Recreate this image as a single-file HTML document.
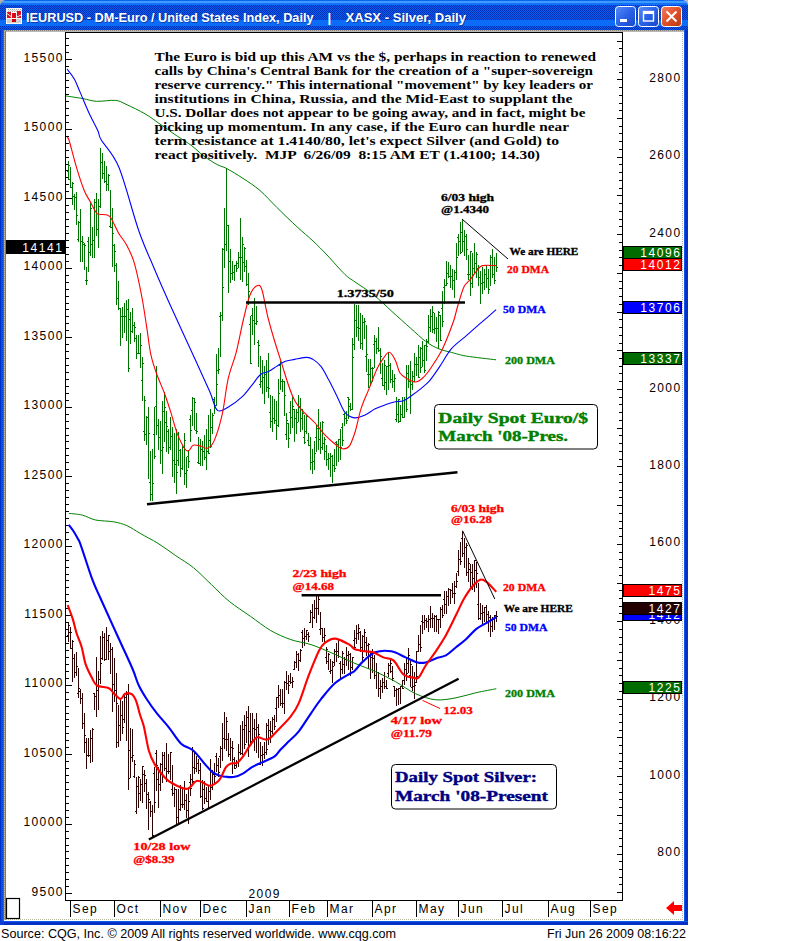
<!DOCTYPE html>
<html><head><meta charset="utf-8"><title>CQG Chart</title>
<style>html,body{margin:0;padding:0;background:#fff;width:808px;height:941px;overflow:hidden}svg{display:block}</style>
</head><body>
<svg width="808" height="941" viewBox="0 0 808 941">
<defs><linearGradient id="tb" x1="0" y1="0" x2="0" y2="1"><stop offset="0" stop-color="#0a5cf0"/><stop offset="0.04" stop-color="#3c98ff"/><stop offset="0.12" stop-color="#1a6cf8"/><stop offset="0.2" stop-color="#0a55e6"/><stop offset="0.6" stop-color="#0850e2"/><stop offset="0.72" stop-color="#0e64f2"/><stop offset="0.85" stop-color="#0a58ea"/><stop offset="1" stop-color="#0446d6"/></linearGradient><linearGradient id="btn" x1="0" y1="0" x2="1" y2="1"><stop offset="0" stop-color="#5a8cf8"/><stop offset="0.5" stop-color="#2a62e8"/><stop offset="1" stop-color="#1848c8"/></linearGradient><linearGradient id="cls" x1="0" y1="0" x2="1" y2="1"><stop offset="0" stop-color="#f08060"/><stop offset="0.5" stop-color="#e05028"/><stop offset="1" stop-color="#b83810"/></linearGradient></defs>
<path d="M0,6 Q0,0 6,0 L682,0 Q688,0 688,6 L688,925 L0,925 Z" fill="#0a3ed4"/>
<pattern id="dith" x="0" y="0" width="2" height="2" patternUnits="userSpaceOnUse"><rect width="2" height="2" fill="#0a5cf0"/><rect width="1" height="1" fill="#0030b4"/><rect x="1" y="1" width="1" height="1" fill="#0030b4"/></pattern>
<clipPath id="tclip"><path d="M0,6 Q0,0 6,0 L682,0 Q688,0 688,6 L688,30 L0,30 Z"/></clipPath>
<g clip-path="url(#tclip)" shape-rendering="crispEdges">
<rect x="0" y="0" width="688" height="1" fill="#0a64ee"/>
<rect x="0" y="1" width="688" height="2" fill="#3c9cff"/>
<rect x="0" y="3" width="688" height="2" fill="#1470f8"/>
<rect x="0" y="5" width="688" height="15" fill="url(#dith)"/>
<rect x="0" y="20" width="688" height="6" fill="#0a6cf8"/>
<rect x="0" y="26" width="688" height="4" fill="url(#dith)"/>
</g>
<path d="M0,0 L5,0 Q1,1 0,5 Z" fill="#b8b0a0"/>
<path d="M688,0 L683,0 Q687,1 688,5 Z" fill="#a8b8d8"/>
<rect x="0" y="30" width="1" height="891" fill="#0030c8"/>
<rect x="1" y="30" width="2" height="891" fill="#0a4ee8"/>
<rect x="3" y="30" width="1" height="891" fill="#1664f8"/>
<rect x="684" y="30" width="1" height="895" fill="#0a5af0"/>
<rect x="685" y="30" width="3" height="895" fill="#0630c4"/>
<rect x="0" y="921" width="688" height="1" fill="#0a5af0"/>
<rect x="0" y="922" width="688" height="3" fill="#0630c4"/>
<rect x="0" y="921" width="4" height="4" fill="#0a3ed4"/>
<rect x="4" y="30" width="680" height="891" fill="#ffffff"/>
<path d="M4,30.5 H684" stroke="#c8c08a" stroke-width="1" shape-rendering="crispEdges"/>
<path d="M4,30.5 H684" stroke="#888070" stroke-width="1" stroke-dasharray="1 1" shape-rendering="crispEdges"/>
<path d="M5,31.5 H684" stroke="#b8b8b8" stroke-width="1" shape-rendering="crispEdges"/>
<path d="M4.5,30 V920" stroke="#c8c08a" stroke-width="1" shape-rendering="crispEdges"/>
<path d="M4.5,30 V920" stroke="#a09880" stroke-width="1" stroke-dasharray="1 1" shape-rendering="crispEdges"/>
<path d="M5.5,31 V920" stroke="#787878" stroke-width="1" shape-rendering="crispEdges"/>
<path d="M682.5,31 V920" stroke="#b0b0b0" stroke-width="1" stroke-dasharray="1 1" shape-rendering="crispEdges"/>
<path d="M6,919.5 H683" stroke="#b8b8a0" stroke-width="1" stroke-dasharray="1 1" shape-rendering="crispEdges"/>
<g shape-rendering="crispEdges">
<rect x="6" y="8" width="16" height="16" fill="#f8f4f0"/>
<rect x="7" y="19" width="14" height="4" fill="#d0d0d0"/>
<rect x="8" y="9" width="1" height="1" fill="#a8a8a8"/><rect x="8" y="11" width="1" height="1" fill="#a8a8a8"/><rect x="9" y="10" width="1" height="1" fill="#c8c8c8"/>
<rect x="10" y="9" width="1" height="1" fill="#a8a8a8"/><rect x="10" y="11" width="1" height="1" fill="#a8a8a8"/><rect x="11" y="10" width="1" height="1" fill="#c8c8c8"/>
<rect x="12" y="9" width="1" height="1" fill="#a8a8a8"/><rect x="12" y="11" width="1" height="1" fill="#a8a8a8"/><rect x="13" y="10" width="1" height="1" fill="#c8c8c8"/>
<rect x="14" y="9" width="1" height="1" fill="#a8a8a8"/><rect x="14" y="11" width="1" height="1" fill="#a8a8a8"/><rect x="15" y="10" width="1" height="1" fill="#c8c8c8"/>
<rect x="16" y="9" width="1" height="1" fill="#a8a8a8"/><rect x="16" y="11" width="1" height="1" fill="#a8a8a8"/><rect x="17" y="10" width="1" height="1" fill="#c8c8c8"/>
<rect x="18" y="9" width="1" height="1" fill="#a8a8a8"/><rect x="18" y="11" width="1" height="1" fill="#a8a8a8"/><rect x="19" y="10" width="1" height="1" fill="#c8c8c8"/>
<rect x="20" y="9" width="1" height="1" fill="#a8a8a8"/><rect x="20" y="11" width="1" height="1" fill="#a8a8a8"/><rect x="21" y="10" width="1" height="1" fill="#c8c8c8"/>
<rect x="7" y="12" width="4" height="6" fill="#e01020"/>
<rect x="12" y="13" width="4" height="5" rx="1" fill="#d80818"/>
<rect x="17" y="11" width="4" height="7" fill="#e01020"/>
<rect x="12" y="19" width="4" height="3" fill="#d00010"/>
</g>
<path d="M7,13.5 L11,16.5 M17,17 L21,15" stroke="#f0f0f0" stroke-width="1"/>
<text x="27" y="22.8" font-family="Liberation Sans" font-weight="bold" font-size="13" lengthAdjust="spacingAndGlyphs" fill="#0a1a70" opacity="0.55" textLength="287">IEURUSD - DM-Euro / United States Index, Daily</text>
<text x="26" y="21.8" font-family="Liberation Sans" font-weight="bold" font-size="13" lengthAdjust="spacingAndGlyphs" fill="#ffffff" textLength="287.6">IEURUSD - DM-Euro / United States Index, Daily</text>
<text x="327.5" y="21.8" font-family="Liberation Sans" font-weight="bold" font-size="13" lengthAdjust="spacingAndGlyphs" fill="#ffffff">|</text>
<text x="346.5" y="22.8" font-family="Liberation Sans" font-weight="bold" font-size="13" lengthAdjust="spacingAndGlyphs" fill="#0a1a70" opacity="0.55" textLength="120.5">XASX - Silver, Daily</text>
<text x="345.5" y="21.8" font-family="Liberation Sans" font-weight="bold" font-size="13" lengthAdjust="spacingAndGlyphs" fill="#ffffff" textLength="120.5">XASX - Silver, Daily</text>
<rect x="615.5" y="6.5" width="20" height="20" rx="3" fill="url(#btn)" stroke="#ffffff" stroke-width="1"/>
<rect x="638.5" y="6.5" width="20" height="20" rx="3" fill="url(#btn)" stroke="#ffffff" stroke-width="1"/>
<rect x="620" y="19" width="7" height="3" fill="#fff"/>
<rect x="643.5" y="11.5" width="10" height="9.5" fill="none" stroke="#fff" stroke-width="1.4"/><rect x="643" y="11" width="11" height="3" fill="#fff"/>
<rect x="661.5" y="6.5" width="20" height="20" rx="3" fill="url(#cls)" stroke="#ffffff" stroke-width="1"/>
<path d="M666.5,11.5 L676.5,21.5 M676.5,11.5 L666.5,21.5" stroke="#fff" stroke-width="2"/>
<g shape-rendering="crispEdges" stroke="#000" stroke-width="1" fill="none">
<path d="M65.5,32 V901 M65,32.5 H623 M622.5,32 V901 M65,900.5 H623"/>
<path d="M65,38.5 H69"/>
<path d="M65,45.5 H69"/>
<path d="M65,52.5 H69"/>
<path d="M65,59.5 H72"/>
<path d="M65,66.5 H69"/>
<path d="M65,73.5 H69"/>
<path d="M65,80.5 H69"/>
<path d="M65,87.5 H69"/>
<path d="M65,94.5 H69"/>
<path d="M65,101.5 H69"/>
<path d="M65,108.5 H69"/>
<path d="M65,115.5 H69"/>
<path d="M65,122.5 H69"/>
<path d="M65,129.5 H72"/>
<path d="M65,136.5 H69"/>
<path d="M65,143.5 H69"/>
<path d="M65,150.5 H69"/>
<path d="M65,157.5 H69"/>
<path d="M65,164.5 H69"/>
<path d="M65,170.5 H69"/>
<path d="M65,177.5 H69"/>
<path d="M65,184.5 H69"/>
<path d="M65,191.5 H69"/>
<path d="M65,198.5 H72"/>
<path d="M65,205.5 H69"/>
<path d="M65,212.5 H69"/>
<path d="M65,219.5 H69"/>
<path d="M65,226.5 H69"/>
<path d="M65,233.5 H69"/>
<path d="M65,240.5 H69"/>
<path d="M65,247.5 H69"/>
<path d="M65,254.5 H69"/>
<path d="M65,261.5 H69"/>
<path d="M65,268.5 H72"/>
<path d="M65,275.5 H69"/>
<path d="M65,282.5 H69"/>
<path d="M65,289.5 H69"/>
<path d="M65,296.5 H69"/>
<path d="M65,303.5 H69"/>
<path d="M65,309.5 H69"/>
<path d="M65,316.5 H69"/>
<path d="M65,323.5 H69"/>
<path d="M65,330.5 H69"/>
<path d="M65,337.5 H72"/>
<path d="M65,344.5 H69"/>
<path d="M65,351.5 H69"/>
<path d="M65,358.5 H69"/>
<path d="M65,365.5 H69"/>
<path d="M65,372.5 H69"/>
<path d="M65,379.5 H69"/>
<path d="M65,386.5 H69"/>
<path d="M65,393.5 H69"/>
<path d="M65,400.5 H69"/>
<path d="M65,407.5 H72"/>
<path d="M65,414.5 H69"/>
<path d="M65,421.5 H69"/>
<path d="M65,428.5 H69"/>
<path d="M65,435.5 H69"/>
<path d="M65,441.5 H69"/>
<path d="M65,448.5 H69"/>
<path d="M65,455.5 H69"/>
<path d="M65,462.5 H69"/>
<path d="M65,469.5 H69"/>
<path d="M65,476.5 H72"/>
<path d="M65,483.5 H69"/>
<path d="M65,490.5 H69"/>
<path d="M65,497.5 H69"/>
<path d="M65,504.5 H69"/>
<path d="M65,511.5 H69"/>
<path d="M65,518.5 H69"/>
<path d="M65,525.5 H69"/>
<path d="M65,532.5 H69"/>
<path d="M65,539.5 H69"/>
<path d="M65,546.5 H72"/>
<path d="M65,553.5 H69"/>
<path d="M65,560.5 H69"/>
<path d="M65,567.5 H69"/>
<path d="M65,574.5 H69"/>
<path d="M65,580.5 H69"/>
<path d="M65,587.5 H69"/>
<path d="M65,594.5 H69"/>
<path d="M65,601.5 H69"/>
<path d="M65,608.5 H69"/>
<path d="M65,615.5 H72"/>
<path d="M65,622.5 H69"/>
<path d="M65,629.5 H69"/>
<path d="M65,636.5 H69"/>
<path d="M65,643.5 H69"/>
<path d="M65,650.5 H69"/>
<path d="M65,657.5 H69"/>
<path d="M65,664.5 H69"/>
<path d="M65,671.5 H69"/>
<path d="M65,678.5 H69"/>
<path d="M65,685.5 H72"/>
<path d="M65,692.5 H69"/>
<path d="M65,699.5 H69"/>
<path d="M65,706.5 H69"/>
<path d="M65,713.5 H69"/>
<path d="M65,719.5 H69"/>
<path d="M65,726.5 H69"/>
<path d="M65,733.5 H69"/>
<path d="M65,740.5 H69"/>
<path d="M65,747.5 H69"/>
<path d="M65,754.5 H72"/>
<path d="M65,761.5 H69"/>
<path d="M65,768.5 H69"/>
<path d="M65,775.5 H69"/>
<path d="M65,782.5 H69"/>
<path d="M65,789.5 H69"/>
<path d="M65,796.5 H69"/>
<path d="M65,803.5 H69"/>
<path d="M65,810.5 H69"/>
<path d="M65,817.5 H69"/>
<path d="M65,824.5 H72"/>
<path d="M65,831.5 H69"/>
<path d="M65,838.5 H69"/>
<path d="M65,845.5 H69"/>
<path d="M65,851.5 H69"/>
<path d="M65,858.5 H69"/>
<path d="M65,865.5 H69"/>
<path d="M65,872.5 H69"/>
<path d="M65,879.5 H69"/>
<path d="M65,886.5 H69"/>
<path d="M65,893.5 H72"/>
<path d="M617,41.5 H623"/>
<path d="M619,48.5 H623"/>
<path d="M619,56.5 H623"/>
<path d="M619,64.5 H623"/>
<path d="M619,72.5 H623"/>
<path d="M617,79.5 H623"/>
<path d="M619,87.5 H623"/>
<path d="M619,95.5 H623"/>
<path d="M619,103.5 H623"/>
<path d="M619,110.5 H623"/>
<path d="M617,118.5 H623"/>
<path d="M619,126.5 H623"/>
<path d="M619,133.5 H623"/>
<path d="M619,141.5 H623"/>
<path d="M619,149.5 H623"/>
<path d="M617,157.5 H623"/>
<path d="M619,164.5 H623"/>
<path d="M619,172.5 H623"/>
<path d="M619,180.5 H623"/>
<path d="M619,188.5 H623"/>
<path d="M617,195.5 H623"/>
<path d="M619,203.5 H623"/>
<path d="M619,211.5 H623"/>
<path d="M619,219.5 H623"/>
<path d="M619,226.5 H623"/>
<path d="M617,234.5 H623"/>
<path d="M619,242.5 H623"/>
<path d="M619,250.5 H623"/>
<path d="M619,257.5 H623"/>
<path d="M619,265.5 H623"/>
<path d="M617,273.5 H623"/>
<path d="M619,281.5 H623"/>
<path d="M619,288.5 H623"/>
<path d="M619,296.5 H623"/>
<path d="M619,304.5 H623"/>
<path d="M617,312.5 H623"/>
<path d="M619,319.5 H623"/>
<path d="M619,327.5 H623"/>
<path d="M619,335.5 H623"/>
<path d="M619,343.5 H623"/>
<path d="M617,350.5 H623"/>
<path d="M619,358.5 H623"/>
<path d="M619,366.5 H623"/>
<path d="M619,373.5 H623"/>
<path d="M619,381.5 H623"/>
<path d="M617,389.5 H623"/>
<path d="M619,397.5 H623"/>
<path d="M619,404.5 H623"/>
<path d="M619,412.5 H623"/>
<path d="M619,420.5 H623"/>
<path d="M617,428.5 H623"/>
<path d="M619,435.5 H623"/>
<path d="M619,443.5 H623"/>
<path d="M619,451.5 H623"/>
<path d="M619,459.5 H623"/>
<path d="M617,466.5 H623"/>
<path d="M619,474.5 H623"/>
<path d="M619,482.5 H623"/>
<path d="M619,490.5 H623"/>
<path d="M619,497.5 H623"/>
<path d="M617,505.5 H623"/>
<path d="M619,513.5 H623"/>
<path d="M619,521.5 H623"/>
<path d="M619,528.5 H623"/>
<path d="M619,536.5 H623"/>
<path d="M617,544.5 H623"/>
<path d="M619,552.5 H623"/>
<path d="M619,559.5 H623"/>
<path d="M619,567.5 H623"/>
<path d="M619,575.5 H623"/>
<path d="M617,583.5 H623"/>
<path d="M619,590.5 H623"/>
<path d="M619,598.5 H623"/>
<path d="M619,606.5 H623"/>
<path d="M619,613.5 H623"/>
<path d="M617,621.5 H623"/>
<path d="M619,629.5 H623"/>
<path d="M619,637.5 H623"/>
<path d="M619,644.5 H623"/>
<path d="M619,652.5 H623"/>
<path d="M617,660.5 H623"/>
<path d="M619,668.5 H623"/>
<path d="M619,675.5 H623"/>
<path d="M619,683.5 H623"/>
<path d="M619,691.5 H623"/>
<path d="M617,699.5 H623"/>
<path d="M619,706.5 H623"/>
<path d="M619,714.5 H623"/>
<path d="M619,722.5 H623"/>
<path d="M619,730.5 H623"/>
<path d="M617,737.5 H623"/>
<path d="M619,745.5 H623"/>
<path d="M619,753.5 H623"/>
<path d="M619,761.5 H623"/>
<path d="M619,768.5 H623"/>
<path d="M617,776.5 H623"/>
<path d="M619,784.5 H623"/>
<path d="M619,792.5 H623"/>
<path d="M619,799.5 H623"/>
<path d="M619,807.5 H623"/>
<path d="M617,815.5 H623"/>
<path d="M619,823.5 H623"/>
<path d="M619,830.5 H623"/>
<path d="M619,838.5 H623"/>
<path d="M619,846.5 H623"/>
<path d="M617,854.5 H623"/>
<path d="M619,861.5 H623"/>
<path d="M619,869.5 H623"/>
<path d="M619,877.5 H623"/>
<path d="M619,884.5 H623"/>
<path d="M617,892.5 H623"/>
<path d="M70.5,901 V917"/>
<path d="M114.5,901 V917"/>
<path d="M160.5,901 V917"/>
<path d="M200.5,901 V917"/>
<path d="M246.5,901 V917"/>
<path d="M289.5,901 V917"/>
<path d="M327.5,901 V917"/>
<path d="M372.5,901 V917"/>
<path d="M416.5,901 V917"/>
<path d="M458.5,901 V917"/>
<path d="M502.5,901 V917"/>
<path d="M548.5,901 V917"/>
<path d="M590.5,901 V917"/>
</g>
<rect x="6.5" y="898.5" width="13" height="20" fill="none" stroke="#000" stroke-width="1.2"/>
<g font-family="Liberation Sans" font-size="12" fill="#000" letter-spacing="1.4">
<text x="63.8" y="61.9" text-anchor="end">15500</text>
<text x="63.8" y="131.4" text-anchor="end">15000</text>
<text x="63.8" y="200.9" text-anchor="end">14500</text>
<text x="63.8" y="270.4" text-anchor="end">14000</text>
<text x="63.8" y="339.9" text-anchor="end">13500</text>
<text x="63.8" y="409.4" text-anchor="end">13000</text>
<text x="63.8" y="478.8" text-anchor="end">12500</text>
<text x="63.8" y="548.3" text-anchor="end">12000</text>
<text x="63.8" y="617.8" text-anchor="end">11500</text>
<text x="63.8" y="687.3" text-anchor="end">11000</text>
<text x="63.8" y="756.8" text-anchor="end">10500</text>
<text x="63.8" y="826.3" text-anchor="end">10000</text>
<text x="63.8" y="895.8" text-anchor="end">9500</text>
<text x="681.5" y="81.9" text-anchor="end">2800</text>
<text x="681.5" y="159.3" text-anchor="end">2600</text>
<text x="681.5" y="236.7" text-anchor="end">2400</text>
<text x="681.5" y="314.2" text-anchor="end">2200</text>
<text x="681.5" y="391.6" text-anchor="end">2000</text>
<text x="681.5" y="469.0" text-anchor="end">1800</text>
<text x="681.5" y="546.4" text-anchor="end">1600</text>
<text x="681.5" y="623.8" text-anchor="end">1400</text>
<text x="681.5" y="701.3" text-anchor="end">1200</text>
<text x="681.5" y="778.7" text-anchor="end">1000</text>
<text x="681.5" y="856.1" text-anchor="end">800</text>
<text x="72.5" y="913">Sep</text>
<text x="116.5" y="913">Oct</text>
<text x="162.5" y="913">Nov</text>
<text x="202.5" y="913">Dec</text>
<text x="248.5" y="913">Jan</text>
<text x="291.5" y="913">Feb</text>
<text x="329.5" y="913">Mar</text>
<text x="374.5" y="913">Apr</text>
<text x="418.5" y="913">May</text>
<text x="460.5" y="913">Jun</text>
<text x="504.5" y="913">Jul</text>
<text x="550.5" y="913">Aug</text>
<text x="592.5" y="913">Sep</text>
<text x="248.5" y="897.5">2009</text>
</g>
<path shape-rendering="crispEdges" stroke="#007400" stroke-width="1" fill="none" d="M68.5,161V180M67,171.5H68M69,165.5H70M70.5,167V188M69,179.5H70M71,187.5H72M72.5,182V205M71,187.5H72M73,183.5H74M74.5,194V210M73,196.5H74M75,197.5H76M76.5,192V225M75,197.5H76M77,215.5H78M78.5,221V242M77,239.5H78M79,222.5H80M80.5,209V262M79,222.5H80M81,241.5H82M82.5,236V262M81,241.5H82M83,242.5H84M84.5,243V270M83,244.5H84M85,245.5H86M86.5,267V285M85,280.5H86M87,280.5H88M88.5,237V272M87,241.5H88M89,252.5H90M90.5,203V256M89,252.5H90M91,208.5H92M92.5,227V258M91,244.5H92M93,240.5H94M94.5,199V258M93,240.5H94M95,202.5H96M96.5,193V236M95,202.5H96M97,229.5H98M98.5,199V248M97,229.5H98M99,206.5H100M100.5,148V208M99,206.5H100M101,162.5H102M102.5,153V179M101,162.5H102M103,173.5H104M104.5,161V183M103,173.5H104M105,181.5H106M106.5,166V191M105,181.5H106M107,184.5H108M108.5,174V191M107,184.5H108M109,175.5H110M110.5,190V228M109,226.5H110M111,227.5H112M112.5,208V267M111,227.5H112M113,233.5H114M114.5,244V272M113,245.5H114M115,251.5H116M116.5,263V305M115,265.5H116M117,298.5H118M118.5,281V310M117,298.5H118M119,308.5H120M120.5,308V346M119,308.5H120M121,316.5H122M122.5,307V338M121,316.5H122M123,316.5H124M124.5,303V333M123,316.5H124M125,316.5H126M126.5,300V341M125,316.5H126M127,309.5H128M128.5,299V372M127,309.5H128M129,368.5H130M130.5,312V344M129,319.5H130M131,331.5H132M132.5,308V333M131,331.5H132M133,325.5H134M134.5,322V342M133,325.5H134M135,327.5H136M136.5,335V359M135,338.5H136M137,353.5H138M138.5,335V354M137,353.5H138M139,353.5H140M140.5,333V368M139,353.5H140M141,345.5H142M142.5,357V401M141,380.5H142M143,363.5H144M144.5,396V441M143,431.5H144M145,400.5H146M146.5,416V445M145,434.5H146M147,417.5H148M148.5,407V479M147,417.5H148M149,433.5H150M150.5,451V501M149,482.5H150M151,494.5H152M152.5,449V501M151,494.5H152M153,483.5H154M154.5,407V459M153,434.5H154M155,456.5H156M156.5,366V435M155,406.5H156M157,425.5H158M158.5,419V450M157,425.5H158M159,437.5H160M160.5,421V464M159,437.5H160M161,450.5H162M162.5,401V474M161,450.5H162M163,447.5H164M164.5,392V442M163,411.5H164M165,407.5H166M166.5,411V452M165,422.5H166M167,426.5H168M168.5,429V454M167,431.5H168M169,447.5H170M170.5,417V450M169,447.5H170M171,436.5H172M172.5,427V477M171,436.5H172M173,460.5H174M174.5,433V483M173,460.5H174M175,464.5H176M176.5,429V494M175,464.5H176M177,472.5H178M178.5,432V466M177,460.5H178M179,450.5H180M180.5,449V477M179,450.5H180M181,468.5H182M182.5,445V470M181,468.5H182M183,447.5H184M184.5,433V485M183,447.5H184M185,440.5H186M186.5,457V488M185,473.5H186M187,470.5H188M188.5,451V468M187,456.5H188M189,461.5H190M190.5,415V442M189,419.5H190M191,430.5H192M192.5,397V426M191,410.5H192M193,398.5H194M194.5,398V430M193,398.5H194M195,402.5H196M196.5,413V434M195,430.5H196M197,431.5H198M198.5,437V464M197,462.5H198M199,463.5H200M200.5,439V466M199,463.5H200M201,449.5H202M202.5,441V466M201,449.5H202M203,451.5H204M204.5,435V460M203,451.5H204M205,457.5H206M206.5,429V470M205,457.5H206M207,451.5H208M208.5,415V454M207,451.5H208M209,453.5H210M210.5,409V448M209,440.5H210M211,446.5H212M212.5,413V434M211,427.5H212M213,415.5H214M214.5,397V414M213,399.5H214M215,405.5H216M216.5,354V406M215,405.5H216M217,384.5H218M218.5,348V374M217,370.5H218M219,369.5H220M220.5,312V357M219,316.5H220M221,315.5H222M222.5,248V321M221,315.5H222M223,287.5H224M224.5,208V268M223,249.5H224M225,244.5H226M226.5,168V251M225,244.5H226M227,225.5H228M228.5,225V293M227,225.5H228M229,261.5H230M230.5,249V283M229,261.5H230M231,273.5H232M232.5,261V280M231,273.5H232M233,272.5H234M234.5,265V281M233,272.5H234M235,265.5H236M236.5,261V272M235,265.5H236M237,268.5H238M238.5,252V268M237,263.5H238M239,257.5H240M240.5,218V280M239,257.5H240M241,257.5H242M242.5,237V282M241,257.5H242M243,244.5H244M244.5,247V272M243,262.5H244M245,248.5H246M246.5,260V286M245,266.5H246M247,284.5H248M248.5,273V305M247,284.5H248M249,291.5H250M250.5,316V364M249,324.5H250M251,363.5H252M252.5,308V335M251,315.5H252M253,320.5H254M254.5,298V345M253,320.5H254M255,323.5H256M256.5,306V325M255,323.5H256M257,321.5H258M258.5,340V367M257,342.5H258M259,345.5H260M260.5,356V388M259,384.5H260M261,381.5H262M262.5,360V394M261,381.5H262M263,377.5H264M264.5,366V404M263,377.5H264M265,374.5H266M266.5,360V392M265,374.5H266M267,387.5H268M268.5,353V398M267,387.5H268M269,388.5H270M270.5,395V428M269,412.5H270M271,421.5H272M272.5,396V432M271,421.5H272M273,418.5H274M274.5,399V424M273,418.5H274M275,420.5H276M276.5,401V440M275,420.5H276M277,425.5H278M278.5,379V427M277,425.5H278M279,393.5H280M280.5,361V390M279,365.5H280M281,363.5H282M282.5,379V392M281,381.5H282M283,381.5H284M284.5,381V416M283,381.5H284M285,395.5H286M286.5,413V440M285,434.5H286M287,420.5H288M288.5,423V448M287,423.5H288M289,438.5H290M290.5,401V434M289,412.5H290M291,417.5H292M292.5,397V428M291,417.5H292M293,406.5H294M294.5,409V442M293,409.5H294M295,418.5H296M296.5,409V434M295,418.5H296M297,422.5H298M298.5,395V422M297,412.5H298M299,406.5H300M300.5,398V432M299,406.5H300M301,418.5H302M302.5,409V430M301,418.5H302M303,413.5H304M304.5,415V444M303,437.5H304M305,442.5H306M306.5,415V434M305,431.5H306M307,416.5H308M308.5,433V446M307,440.5H308M309,445.5H310M310.5,437V470M309,445.5H310M311,462.5H312M312.5,449V474M311,462.5H312M313,461.5H314M314.5,441V470M313,461.5H314M315,453.5H316M316.5,425V452M315,437.5H316M317,428.5H318M318.5,409V450M317,428.5H318M319,439.5H320M320.5,422V454M319,439.5H320M321,447.5H322M322.5,421V450M321,447.5H322M323,422.5H324M324.5,437V460M323,443.5H324M325,439.5H326M326.5,445V466M325,451.5H326M327,459.5H328M328.5,453V470M327,459.5H328M329,458.5H330M330.5,453V477M329,458.5H330M331,456.5H332M332.5,455V483M331,456.5H332M333,465.5H334M334.5,449V472M333,465.5H334M335,468.5H336M336.5,441V466M335,442.5H336M337,444.5H338M338.5,439V462M337,444.5H338M339,439.5H340M340.5,429V460M339,439.5H340M341,447.5H342M342.5,423V446M341,427.5H342M343,440.5H344M344.5,413V426M343,414.5H344M345,418.5H346M346.5,411V424M345,418.5H346M347,420.5H348M348.5,397V419M347,397.5H348M349,399.5H350M350.5,403V411M349,406.5H350M351,409.5H352M352.5,338V410M351,409.5H352M353,357.5H354M354.5,304V350M353,344.5H354M355,320.5H356M356.5,305V337M355,320.5H356M357,327.5H358M358.5,305V341M357,327.5H358M359,328.5H360M360.5,313V349M359,328.5H360M361,343.5H362M362.5,315V350M361,343.5H362M363,322.5H364M364.5,318V339M363,322.5H364M365,321.5H366M366.5,325V372M365,356.5H366M367,354.5H368M368.5,359V388M367,374.5H368M369,374.5H370M370.5,359V386M369,374.5H370M371,368.5H372M372.5,367V382M371,368.5H372M373,368.5H374M374.5,335V368M373,344.5H374M375,341.5H376M376.5,338V354M375,341.5H376M377,348.5H378M378.5,327V352M377,348.5H378M379,350.5H380M380.5,348V374M379,350.5H380M381,356.5H382M382.5,363V386M381,378.5H382M383,385.5H384M384.5,360V390M383,385.5H384M385,365.5H386M386.5,366V395M385,382.5H386M387,366.5H388M388.5,352V390M387,366.5H388M389,365.5H390M390.5,363V383M389,365.5H390M391,379.5H392M392.5,370V388M391,379.5H392M393,381.5H394M394.5,374V392M393,381.5H394M395,378.5H396M396.5,397V422M395,419.5H396M397,414.5H398M398.5,399V423M397,414.5H398M399,399.5H400M400.5,405V422M399,421.5H400M401,414.5H402M402.5,397V418M401,414.5H402M403,417.5H404M404.5,397V418M403,417.5H404M405,399.5H406M406.5,365V412M405,399.5H406M407,409.5H408M408.5,365V388M407,373.5H408M409,381.5H410M410.5,361V414M409,381.5H410M411,384.5H412M412.5,371V390M411,384.5H412M413,376.5H414M414.5,353V382M413,376.5H414M415,364.5H416M416.5,357V376M415,364.5H416M417,364.5H418M418.5,345V378M417,364.5H418M419,377.5H420M420.5,347V373M419,357.5H420M421,367.5H422M422.5,341V367M421,348.5H422M423,360.5H424M424.5,345V373M423,360.5H424M425,370.5H426M426.5,339V361M425,345.5H426M427,346.5H428M428.5,315V343M427,341.5H428M429,327.5H430M430.5,309V332M429,327.5H430M431,316.5H432M432.5,306V333M431,316.5H432M433,312.5H434M434.5,313V334M433,329.5H434M435,328.5H436M436.5,317V342M435,328.5H436M437,328.5H438M438.5,311V349M437,328.5H438M439,312.5H440M440.5,315V341M439,315.5H440M441,340.5H442M442.5,291V327M441,308.5H442M443,321.5H444M444.5,279V304M443,287.5H444M445,285.5H446M446.5,261V286M445,285.5H446M447,283.5H448M448.5,262V278M447,273.5H448M449,276.5H450M450.5,265V288M449,276.5H450M451,276.5H452M452.5,269V290M451,276.5H452M453,280.5H454M454.5,270V298M453,280.5H454M455,272.5H456M456.5,243V280M455,272.5H456M457,257.5H458M458.5,234V256M457,237.5H458M459,241.5H460M460.5,222V254M459,241.5H460M461,252.5H462M462.5,220V252M461,232.5H462M463,241.5H464M464.5,230V256M463,241.5H464M465,236.5H466M466.5,234V260M465,236.5H466M467,249.5H468M468.5,255V280M467,274.5H468M469,274.5H470M470.5,251V296M469,274.5H470M471,251.5H472M472.5,253V288M471,283.5H472M473,275.5H474M474.5,243V274M473,268.5H474M475,263.5H476M476.5,252V278M475,263.5H476M477,254.5H478M478.5,265V286M477,268.5H478M479,277.5H480M480.5,271V304M479,277.5H480M481,283.5H482M482.5,267V294M481,283.5H482M483,282.5H484M484.5,269V290M483,282.5H484M485,274.5H486M486.5,265V288M485,274.5H486M487,278.5H488M488.5,269V294M487,278.5H488M489,289.5H490M490.5,255V286M489,265.5H490M491,257.5H492M492.5,249V278M491,257.5H492M493,274.5H494M494.5,257V284M493,274.5H494M495,280.5H496M496.5,253V272M495,265.5H496M497,267.5H498"/>
<path shape-rendering="crispEdges" stroke="#2c0404" stroke-width="1" fill="none" d="M68.5,623V642M67,635.5H68M69,625.5H70M70.5,627V649M69,632.5H70M71,632.5H72M72.5,640V682M71,648.5H72M73,641.5H74M74.5,654V678M73,658.5H74M75,672.5H76M76.5,652V676M75,672.5H76M77,666.5H78M78.5,668V698M77,693.5H78M79,688.5H80M80.5,689V704M79,691.5H80M81,698.5H82M82.5,693V729M81,698.5H82M83,723.5H84M84.5,713V753M83,723.5H84M85,735.5H86M86.5,738V769M85,742.5H86M87,755.5H88M88.5,738V757M87,755.5H88M89,755.5H90M90.5,730V763M89,755.5H90M91,738.5H92M92.5,728V762M91,738.5H92M93,729.5H94M94.5,693V710M93,693.5H94M95,696.5H96M96.5,657V717M95,696.5H96M97,690.5H98M98.5,671V710M97,690.5H98M99,679.5H100M100.5,636V684M99,679.5H100M101,663.5H102M102.5,631V660M101,658.5H102M103,637.5H104M104.5,633V661M103,637.5H104M105,659.5H106M106.5,627V660M105,659.5H106M107,640.5H108M108.5,635V660M107,640.5H108M109,635.5H110M110.5,643V674M109,651.5H110M111,649.5H112M112.5,647V712M111,649.5H112M113,684.5H114M114.5,658V702M113,684.5H114M115,690.5H116M116.5,673V748M115,690.5H116M117,703.5H118M118.5,705V747M117,742.5H118M119,725.5H120M120.5,699V741M119,725.5H120M121,715.5H122M122.5,701V734M121,715.5H122M123,727.5H124M124.5,693V723M123,719.5H124M125,697.5H126M126.5,691V741M125,697.5H126M127,694.5H128M128.5,684V790M127,694.5H128M129,778.5H130M130.5,728V778M129,750.5H130M131,757.5H132M132.5,729V762M131,757.5H132M133,755.5H134M134.5,760V778M133,776.5H134M135,764.5H136M136.5,777V814M135,811.5H136M137,786.5H138M138.5,776V808M137,786.5H138M139,777.5H140M140.5,779V801M139,793.5H140M141,784.5H142M142.5,766V803M141,784.5H142M143,766.5H144M144.5,770V792M143,774.5H144M145,775.5H146M146.5,779V809M145,783.5H146M147,794.5H148M148.5,792V830M147,794.5H148M149,799.5H150M150.5,801V817M149,802.5H150M151,811.5H152M152.5,805V838M151,811.5H152M153,835.5H154M154.5,767V813M153,773.5H154M155,802.5H156M156.5,750V791M155,753.5H156M157,765.5H158M158.5,767V808M157,779.5H158M159,784.5H160M160.5,763V791M159,784.5H160M161,764.5H162M162.5,752V783M161,764.5H162M163,776.5H164M164.5,752V771M163,755.5H164M165,768.5H166M166.5,743V782M165,768.5H166M167,771.5H168M168.5,754V774M167,771.5H168M169,771.5H170M170.5,752V780M169,771.5H170M171,752.5H172M172.5,765V796M171,789.5H172M173,793.5H174M174.5,787V807M173,793.5H174M175,789.5H176M176.5,789V824M175,789.5H176M177,817.5H178M178.5,789V824M177,817.5H178M179,809.5H180M180.5,785V811M179,809.5H180M181,804.5H182M182.5,788V808M181,804.5H182M183,804.5H184M184.5,781V810M183,804.5H184M185,800.5H186M186.5,794V818M185,800.5H186M187,810.5H188M188.5,789V824M187,810.5H188M189,801.5H190M190.5,774V796M189,782.5H190M191,788.5H192M192.5,747V786M191,779.5H192M193,781.5H194M194.5,752V774M193,767.5H194M195,768.5H196M196.5,756V772M195,768.5H196M197,763.5H198M198.5,759V774M197,763.5H198M199,770.5H200M200.5,763V798M199,770.5H200M201,796.5H202M202.5,780V810M201,796.5H202M203,808.5H204M204.5,781V804M203,789.5H204M205,798.5H206M206.5,787V802M205,798.5H206M207,801.5H208M208.5,785V808M207,801.5H208M209,791.5H210M210.5,759V800M209,791.5H210M211,787.5H212M212.5,770V790M211,787.5H212M213,774.5H214M214.5,763V785M213,774.5H214M215,776.5H216M216.5,753V772M215,756.5H216M217,765.5H218M218.5,758V777M217,765.5H218M219,772.5H220M220.5,746V768M219,756.5H220M221,748.5H222M222.5,723V761M221,748.5H222M223,738.5H224M224.5,712V749M223,738.5H224M225,739.5H226M226.5,717V751M225,739.5H226M227,721.5H228M228.5,733V757M227,739.5H228M229,754.5H230M230.5,738V761M229,754.5H230M231,747.5H232M232.5,741V774M231,747.5H232M233,748.5H234M234.5,757V769M233,759.5H234M235,768.5H236M236.5,760V768M235,765.5H236M237,762.5H238M238.5,744V767M237,762.5H238M239,752.5H240M240.5,725V755M239,752.5H240M241,753.5H242M242.5,721V755M241,753.5H242M243,729.5H244M244.5,715V749M243,729.5H244M245,744.5H246M246.5,711V743M245,725.5H246M247,717.5H248M248.5,706V757M247,717.5H248M249,731.5H250M250.5,713V744M249,731.5H250M251,741.5H252M252.5,713V743M251,741.5H252M253,728.5H254M254.5,719V751M253,728.5H254M255,729.5H256M256.5,713V753M255,729.5H256M257,727.5H258M258.5,724V758M257,727.5H258M259,734.5H260M260.5,742V765M259,764.5H260M261,755.5H262M262.5,746V766M261,755.5H262M263,762.5H264M264.5,742V759M263,754.5H264M265,752.5H266M266.5,723V755M265,752.5H266M267,749.5H268M268.5,719V745M267,725.5H268M269,730.5H270M270.5,721V743M269,730.5H270M271,731.5H272M272.5,717V734M271,731.5H272M273,719.5H274M274.5,715V730M273,719.5H274M275,726.5H276M276.5,697V722M275,708.5H276M277,697.5H278M278.5,685V708M277,697.5H278M279,695.5H280M280.5,689V706M279,695.5H280M281,703.5H282M282.5,689V708M281,703.5H282M283,703.5H284M284.5,681V714M283,703.5H284M285,682.5H286M286.5,671V690M285,682.5H286M287,683.5H288M288.5,675V694M287,683.5H288M289,685.5H290M290.5,673V684M289,681.5H290M291,682.5H292M292.5,677V688M291,682.5H292M293,681.5H294M294.5,661V670M293,669.5H294M295,662.5H296M296.5,651V668M295,662.5H296M297,654.5H298M298.5,653V671M297,654.5H298M299,660.5H300M300.5,649V662M299,660.5H300M301,650.5H302M302.5,630V648M301,632.5H302M303,638.5H304M304.5,628V646M303,638.5H304M305,636.5H306M306.5,630V640M305,636.5H306M307,630.5H308M308.5,632V642M307,634.5H308M309,636.5H310M310.5,610V623M309,622.5H310M311,612.5H312M312.5,604V628M311,612.5H312M313,617.5H314M314.5,600V619M313,617.5H314M315,608.5H316M316.5,596V623M315,608.5H316M317,608.5H318M318.5,595V615M317,608.5H318M319,599.5H320M320.5,612V635M319,629.5H320M321,628.5H322M322.5,628V642M321,628.5H322M323,637.5H324M324.5,628V642M323,637.5H324M325,635.5H326M326.5,647V664M325,657.5H326M327,649.5H328M328.5,653V670M327,661.5H328M329,654.5H330M330.5,659V674M329,671.5H330M331,670.5H332M332.5,661V683M331,670.5H332M333,666.5H334M334.5,649V666M333,662.5H334M335,651.5H336M336.5,643V662M335,651.5H336M337,651.5H338M338.5,639V658M337,651.5H338M339,639.5H340M340.5,661V680M339,663.5H340M341,669.5H342M342.5,651V674M341,669.5H342M343,653.5H344M344.5,657V674M343,664.5H344M345,659.5H346M346.5,647V666M345,659.5H346M347,655.5H348M348.5,651V670M347,655.5H348M349,654.5H350M350.5,653V676M349,654.5H350M351,667.5H352M352.5,657V670M351,667.5H352M353,657.5H354M354.5,630V650M353,640.5H354M355,647.5H356M356.5,625V644M355,638.5H356M357,633.5H358M358.5,624V640M357,633.5H358M359,628.5H360M360.5,631V652M359,632.5H360M361,647.5H362M362.5,635V662M361,647.5H362M363,657.5H364M364.5,629V652M363,636.5H364M365,632.5H366M366.5,637V656M365,642.5H366M367,645.5H368M368.5,643V669M367,645.5H368M369,644.5H370M370.5,651V679M369,656.5H370M371,657.5H372M372.5,649V673M371,657.5H372M373,658.5H374M374.5,655V679M373,658.5H374M375,675.5H376M376.5,663V689M375,675.5H376M377,672.5H378M378.5,672V697M377,672.5H378M379,688.5H380M380.5,680V699M379,688.5H380M381,686.5H382M382.5,678V693M381,686.5H382M383,682.5H384M384.5,672V689M383,682.5H384M385,686.5H386M386.5,680V689M385,686.5H386M387,688.5H388M388.5,663V677M387,673.5H388M389,665.5H390M390.5,659V673M389,665.5H390M391,663.5H392M392.5,666V681M391,671.5H392M393,678.5H394M394.5,686V697M393,686.5H394M395,690.5H396M396.5,688V706M395,690.5H396M397,689.5H398M398.5,688V705M397,689.5H398M399,688.5H400M400.5,686V704M399,688.5H400M401,686.5H402M402.5,680V689M401,686.5H402M403,688.5H404M404.5,663V685M403,680.5H404M405,669.5H406M406.5,657V681M405,669.5H406M407,673.5H408M408.5,648V673M407,663.5H408M409,655.5H410M410.5,661V687M409,675.5H410M411,664.5H412M412.5,666V691M411,687.5H412M413,686.5H414M414.5,672V699M413,686.5H414M415,685.5H416M416.5,651V683M415,682.5H416M417,676.5H418M418.5,635V652M417,651.5H418M419,644.5H420M420.5,625V652M419,644.5H420M421,647.5H422M422.5,615V634M421,621.5H422M423,622.5H424M424.5,615V630M423,622.5H424M425,620.5H426M426.5,618V628M425,620.5H426M427,621.5H428M428.5,615V632M427,621.5H428M429,619.5H430M430.5,606V628M429,619.5H430M431,618.5H432M432.5,613V628M431,618.5H432M433,618.5H434M434.5,615V632M433,618.5H434M435,616.5H436M436.5,615V632M435,616.5H436M437,619.5H438M438.5,619V634M437,619.5H438M439,619.5H440M440.5,607V628M439,619.5H440M441,609.5H442M442.5,605V618M441,609.5H442M443,615.5H444M444.5,591V614M443,599.5H444M445,604.5H446M446.5,591V614M445,604.5H446M447,596.5H448M448.5,588V606M447,596.5H448M449,589.5H450M450.5,589V604M449,589.5H450M451,590.5H452M452.5,583V598M451,590.5H452M453,593.5H454M454.5,581V604M453,593.5H454M455,593.5H456M456.5,573V588M455,586.5H456M457,581.5H458M458.5,550V576M457,571.5H458M459,559.5H460M460.5,542V565M459,559.5H460M461,561.5H462M462.5,531V557M461,538.5H462M463,553.5H464M464.5,538V568M463,553.5H464M465,547.5H466M466.5,543V576M465,547.5H466M467,545.5H468M468.5,558V582M467,572.5H468M469,563.5H470M470.5,564V588M469,569.5H470M471,572.5H472M472.5,564V590M471,572.5H472M473,578.5H474M474.5,560V592M473,578.5H474M475,560.5H476M476.5,562V588M475,570.5H476M477,573.5H478M478.5,583V620M477,604.5H478M479,618.5H480M480.5,603V620M479,618.5H480M481,613.5H482M482.5,605V624M481,613.5H482M483,612.5H484M484.5,607V622M483,612.5H484M485,607.5H486M486.5,605V624M485,607.5H486M487,614.5H488M488.5,611V632M487,614.5H488M489,617.5H490M490.5,615V637M489,617.5H490M491,626.5H492M492.5,617V632M491,626.5H492M493,619.5H494M494.5,615V630M493,619.5H494M495,615.5H496M496.5,611V622M495,615.5H496M497,616.5H498"/>
<path d="M66.0,96.0 C68.8,96.4 77.9,97.7 83.0,98.6 C88.1,99.5 91.1,101.0 96.5,101.3 C101.9,101.6 110.7,99.9 115.6,100.4 C120.5,100.9 121.1,102.1 126.0,104.3 C130.9,106.5 139.5,110.6 145.0,113.8 C150.5,117.0 153.7,119.7 158.9,123.3 C164.1,126.9 170.7,131.7 176.2,135.4 C181.7,139.2 187.2,142.3 191.8,145.8 C196.4,149.3 199.7,153.0 204.0,156.2 C208.3,159.4 214.1,162.9 217.8,164.9 C221.6,166.9 222.3,166.2 226.5,168.4 C230.7,170.7 237.4,174.7 243.0,178.4 C248.6,182.1 254.3,185.6 260.0,190.5 C265.7,195.4 270.8,201.5 277.0,207.6 C283.2,213.7 291.0,221.2 297.0,226.8 C303.0,232.4 308.0,236.3 313.0,241.0 C318.0,245.7 321.7,249.4 327.0,255.0 C332.3,260.6 340.3,270.0 345.0,274.5 C349.7,279.0 350.2,278.5 355.0,281.9 C359.8,285.3 367.4,289.9 373.6,294.9 C379.8,299.8 385.9,306.0 392.1,311.6 C398.3,317.2 405.1,323.4 410.7,328.3 C416.3,333.2 420.9,337.9 425.5,341.3 C430.1,344.7 434.2,346.9 438.5,348.7 C442.8,350.5 446.9,351.2 451.5,352.4 C456.1,353.6 459.0,354.9 466.4,356.1 C473.8,357.3 491.2,359.2 496.1,359.8" stroke="#008000" stroke-width="1.0" fill="none" stroke-linejoin="round"/>
<path d="M67.0,69.0 C68.2,70.7 72.1,75.1 74.3,79.0 C76.5,82.9 77.7,86.7 80.2,92.4 C82.7,98.1 86.1,106.8 89.1,113.2 C92.1,119.6 96.0,126.5 98.0,131.0 C100.0,135.5 97.8,133.9 101.3,140.0 C104.8,146.1 112.8,152.4 119.0,167.5 C125.2,182.6 132.9,213.8 138.7,230.5 C144.5,247.2 148.8,255.6 154.0,268.0 C159.2,280.4 164.2,291.7 170.2,305.0 C176.2,318.3 183.3,333.7 189.9,348.0 C196.5,362.3 204.9,380.6 209.5,391.0 C214.1,401.4 214.1,407.8 217.4,410.4 C220.7,413.0 225.0,408.8 229.2,406.5 C233.3,404.2 238.4,400.3 242.3,396.7 C246.2,393.1 249.4,388.3 252.4,384.6 C255.4,380.9 257.8,376.7 260.5,374.5 C263.2,372.3 265.9,372.9 268.6,371.5 C271.3,370.1 273.9,368.1 276.6,366.4 C279.3,364.7 281.7,362.6 284.7,361.4 C287.7,360.2 291.1,360.1 294.8,359.4 C298.5,358.7 303.9,357.4 306.9,357.4 C309.9,357.4 310.6,357.9 313.0,359.4 C315.4,360.9 318.3,362.9 321.0,366.4 C323.7,369.9 326.4,375.6 329.1,380.6 C331.8,385.7 334.5,391.3 337.2,396.7 C339.9,402.1 342.3,409.4 345.3,412.9 C348.3,416.4 351.7,417.6 355.0,417.9 C358.3,418.2 361.7,416.4 365.1,414.9 C368.5,413.4 371.8,410.5 375.2,408.8 C378.6,407.1 381.9,406.0 385.3,404.8 C388.7,403.6 392.4,402.5 395.4,401.8 C398.4,401.1 400.8,401.8 403.5,400.8 C406.2,399.8 408.8,397.6 411.5,395.7 C414.2,393.8 416.6,392.2 419.6,389.7 C422.6,387.2 426.3,384.5 429.7,380.6 C433.1,376.7 436.2,371.7 439.8,366.4 C443.4,361.1 447.1,353.8 451.5,348.7 C455.9,343.6 461.4,340.0 466.4,335.7 C471.3,331.4 476.2,327.0 481.2,322.7 C486.1,318.4 493.6,311.9 496.1,309.7" stroke="#0000ff" stroke-width="1.1" fill="none" stroke-linejoin="round"/>
<path d="M67.0,138.0 C67.3,138.3 67.5,135.3 69.0,140.0 C70.5,144.7 73.6,157.8 76.1,166.2 C78.6,174.6 81.8,184.6 84.2,190.5 C86.6,196.4 88.2,197.9 90.2,201.6 C92.2,205.3 94.8,210.6 96.3,212.7 C97.8,214.8 97.4,213.9 99.3,214.3 C101.2,214.7 105.4,214.4 107.4,215.1 C109.4,215.8 109.6,215.7 111.4,218.7 C113.2,221.7 116.0,228.5 118.5,232.9 C121.0,237.3 124.1,240.3 126.6,245.0 C129.1,249.7 131.7,255.1 133.7,261.1 C135.7,267.2 137.2,274.6 138.7,281.3 C140.2,288.0 141.3,293.8 142.7,301.5 C144.0,309.2 145.5,319.0 146.8,327.8 C148.2,336.6 149.1,346.5 150.8,354.3 C152.5,362.1 154.5,367.8 156.9,374.5 C159.3,381.2 162.7,388.3 165.0,394.7 C167.3,401.1 169.0,406.5 171.0,412.9 C173.0,419.3 174.8,427.1 177.1,433.1 C179.4,439.2 183.1,446.4 185.1,449.2 C187.1,452.0 187.8,450.9 189.2,450.2 C190.5,449.5 191.2,445.9 193.2,445.2 C195.2,444.5 199.0,445.7 201.3,446.2 C203.7,446.7 205.2,449.0 207.3,448.2 C209.4,447.4 211.5,446.7 214.0,441.1 C216.5,435.6 219.7,425.3 222.1,414.9 C224.5,404.5 225.8,389.0 228.2,378.6 C230.5,368.2 233.7,362.1 236.2,352.3 C238.7,342.5 241.0,329.6 243.3,320.0 C245.6,310.4 247.7,300.7 250.0,295.0 C252.3,289.3 255.0,286.6 257.0,285.8 C259.0,285.0 260.1,284.3 262.0,290.0 C263.9,295.7 265.5,308.3 268.6,320.0 C271.7,331.7 276.3,346.9 280.7,360.4 C285.1,373.9 289.1,390.4 294.8,400.8 C300.5,411.2 309.9,417.3 315.0,423.0 C320.1,428.7 321.7,431.6 325.1,435.1 C328.5,438.6 332.4,441.9 335.2,444.2 C338.0,446.5 339.8,448.5 342.2,448.8 C344.6,449.1 347.1,449.2 349.3,446.2 C351.5,443.2 353.4,437.2 355.4,431.0 C357.3,424.8 358.7,415.9 361.0,408.8 C363.3,401.7 366.4,395.3 369.1,388.6 C371.8,381.9 374.8,373.5 377.2,368.5 C379.6,363.5 381.3,361.1 383.3,358.4 C385.3,355.7 387.3,352.0 389.3,352.3 C391.3,352.6 393.6,356.9 395.4,360.4 C397.2,363.8 398.0,369.9 400.0,373.0 C402.0,376.1 404.9,377.5 407.5,379.0 C410.1,380.5 413.2,382.0 415.6,382.0 C418.0,382.0 419.6,380.6 421.6,379.0 C423.6,377.4 425.3,375.6 427.7,372.5 C430.1,369.4 433.4,364.1 435.8,360.4 C438.2,356.7 439.8,354.3 441.8,350.3 C443.8,346.3 445.9,341.2 447.9,336.2 C449.9,331.1 452.2,325.2 453.9,320.0 C455.6,314.8 456.3,310.5 458.0,305.0 C459.7,299.5 462.0,291.0 464.0,286.8 C466.0,282.6 468.1,282.2 470.1,279.7 C472.1,277.2 474.1,274.0 476.1,271.7 C478.1,269.4 478.8,266.6 482.2,265.6 C485.6,264.6 493.9,265.6 496.3,265.6" stroke="#ff0000" stroke-width="1.1" fill="none" stroke-linejoin="round"/>
<path d="M68.9,513.4 C71.1,513.7 77.8,514.0 82.3,515.1 C86.8,516.2 90.4,518.9 95.6,520.0 C100.8,521.1 108.3,520.9 113.5,521.8 C118.7,522.7 122.3,523.7 126.8,525.6 C131.2,527.5 135.0,530.4 140.2,533.4 C145.4,536.4 152.1,539.7 158.0,543.4 C163.9,547.1 169.9,551.6 175.8,555.7 C181.8,559.8 187.8,563.1 193.7,567.9 C199.6,572.7 205.6,579.1 211.5,584.7 C217.4,590.3 222.8,596.1 229.3,601.4 C235.8,606.7 243.5,611.4 250.4,616.3 C257.3,621.1 263.9,626.6 270.6,630.5 C277.3,634.4 284.1,637.2 290.8,639.6 C297.5,642.0 304.3,642.4 311.0,644.6 C317.7,646.8 323.8,649.6 331.1,652.7 C338.4,655.8 347.6,660.3 355.0,663.4 C362.4,666.5 368.5,668.5 375.2,671.5 C381.9,674.5 388.7,677.9 395.4,681.6 C402.1,685.3 408.9,690.7 415.6,693.7 C422.3,696.7 429.1,699.1 435.8,699.8 C442.5,700.5 449.3,699.0 456.0,697.8 C462.7,696.6 469.4,694.2 476.1,692.7 C482.8,691.2 492.9,689.4 496.3,688.7" stroke="#008000" stroke-width="1.0" fill="none" stroke-linejoin="round"/>
<path d="M68.7,524.8 C69.6,526.0 72.5,529.6 74.0,532.0 C75.5,534.4 76.8,536.7 78.0,539.0 C79.2,541.3 78.6,539.1 81.0,545.8 C83.4,552.5 88.9,570.3 92.2,579.2 C95.5,588.1 96.3,588.9 100.8,599.0 C105.3,609.1 114.1,628.3 119.4,640.0 C124.7,651.7 129.4,661.5 132.6,669.0 C135.8,676.5 136.3,680.2 138.7,685.2 C141.1,690.2 143.8,694.6 146.8,699.3 C149.8,704.0 153.2,708.7 156.9,713.4 C160.6,718.1 165.0,722.5 169.0,727.6 C173.0,732.7 177.1,739.9 181.1,743.7 C185.1,747.5 189.2,747.0 193.2,750.5 C197.2,754.0 202.1,761.0 205.3,764.6 C208.5,768.2 210.0,770.2 212.4,772.1 C214.8,774.0 217.5,775.0 219.8,775.8 C222.1,776.6 223.5,776.6 226.0,776.8 C228.5,777.0 231.8,777.4 234.7,776.8 C237.6,776.2 240.4,774.9 243.3,773.3 C246.2,771.7 248.9,768.9 252.0,767.1 C255.1,765.3 258.2,764.1 261.9,762.4 C265.6,760.6 271.2,758.7 274.3,756.6 C277.4,754.5 277.9,752.4 280.4,749.8 C282.9,747.2 286.0,744.2 289.1,741.1 C292.2,738.0 295.2,736.0 298.8,731.4 C302.4,726.8 307.3,718.7 311.0,713.3 C314.7,707.9 317.0,704.1 321.0,699.1 C325.0,694.1 330.1,687.4 335.2,683.0 C340.2,678.6 348.0,675.0 351.3,672.9 C354.6,670.8 353.0,672.4 355.0,670.5 C357.0,668.6 359.7,664.4 363.1,661.4 C366.5,658.4 370.5,654.0 375.2,652.3 C379.9,650.6 386.2,650.4 391.3,651.3 C396.4,652.1 401.1,655.5 405.5,657.4 C409.9,659.2 414.2,661.6 417.6,662.4 C421.0,663.2 422.7,663.1 425.7,662.4 C428.7,661.7 432.4,659.6 435.8,658.4 C439.2,657.2 442.5,657.2 445.9,655.4 C449.3,653.5 452.6,650.0 456.0,647.3 C459.4,644.6 462.6,642.2 466.0,639.2 C469.4,636.2 472.7,631.8 476.1,629.1 C479.5,626.4 482.8,625.1 486.2,623.1 C489.6,621.1 494.6,618.0 496.3,617.0" stroke="#0000ff" stroke-width="2.1" fill="none" stroke-linejoin="round"/>
<path d="M67.7,605.1 C68.5,607.4 71.3,614.4 72.8,619.1 C74.3,623.8 75.1,628.5 76.6,633.2 C78.1,637.9 80.2,642.1 81.7,647.2 C83.2,652.3 83.8,658.7 85.5,663.8 C87.2,668.9 90.0,674.2 91.9,677.8 C93.8,681.4 94.2,683.8 97.0,685.5 C99.8,687.2 105.7,686.7 108.5,688.0 C111.3,689.3 111.6,691.3 113.6,693.1 C115.6,694.9 118.7,698.8 120.6,698.9 C122.5,699.0 123.2,694.5 125.1,693.7 C127.0,693.0 130.2,693.0 132.1,694.4 C134.0,695.8 135.2,698.6 136.5,702.0 C137.8,705.4 138.8,710.8 140.0,714.8 C141.2,718.8 142.3,720.2 143.8,726.2 C145.3,732.2 147.0,744.1 148.8,750.5 C150.7,756.9 152.2,760.1 154.9,764.6 C157.6,769.1 162.0,774.5 165.0,777.7 C168.0,780.9 169.3,781.9 173.0,783.8 C176.7,785.6 183.1,789.3 187.2,788.8 C191.2,788.3 193.5,781.3 197.3,780.8 C201.1,780.3 206.4,785.7 209.9,785.7 C213.4,785.7 216.5,782.6 218.6,780.7 C220.7,778.9 221.1,776.9 222.3,774.6 C223.5,772.3 224.6,769.0 226.0,767.1 C227.4,765.2 229.1,764.1 230.9,763.4 C232.8,762.7 235.0,764.0 237.1,762.8 C239.2,761.6 241.2,758.8 243.3,756.0 C245.4,753.2 247.2,749.2 249.5,746.1 C251.8,743.0 254.4,738.5 256.9,737.4 C259.4,736.3 262.3,739.1 264.4,739.3 C266.5,739.5 267.3,740.0 269.3,738.7 C271.3,737.4 273.0,735.1 276.6,731.4 C280.2,727.7 287.1,721.0 290.8,716.3 C294.5,711.6 295.8,710.1 298.8,703.2 C301.8,696.3 305.5,683.6 308.9,674.9 C312.3,666.1 316.3,656.1 319.0,650.7 C321.7,645.3 322.4,644.6 325.1,642.6 C327.8,640.6 331.2,638.3 335.2,638.6 C339.2,638.9 346.0,642.8 349.3,644.6 C352.6,646.4 352.4,648.2 355.0,649.3 C357.6,650.4 362.1,650.8 365.1,651.3 C368.1,651.8 370.2,651.3 373.2,652.3 C376.2,653.3 379.9,656.0 383.3,657.4 C386.7,658.8 390.0,657.5 393.4,660.4 C396.8,663.2 400.1,671.6 403.5,674.5 C406.9,677.4 411.1,677.1 413.6,677.6 C416.1,678.1 416.6,679.6 418.6,677.6 C420.6,675.6 422.8,669.9 425.7,665.5 C428.6,661.1 432.4,656.3 435.8,651.3 C439.2,646.2 442.5,641.2 445.9,635.2 C449.3,629.2 453.0,621.1 456.0,615.0 C459.0,608.9 461.3,603.5 464.0,598.8 C466.7,594.1 469.4,589.9 472.1,586.7 C474.8,583.5 477.9,580.5 480.2,579.7 C482.5,578.9 483.5,579.7 486.2,581.7 C488.9,583.7 494.6,590.1 496.3,591.8" stroke="#ff0000" stroke-width="2.1" fill="none" stroke-linejoin="round"/>
<path d="M246,302.5 H465" stroke="#000" stroke-width="2.6"/>
<path d="M147,504.3 L457.5,472.2" stroke="#000" stroke-width="2.4"/>
<path d="M462,219 L508,259" stroke="#000" stroke-width="1"/>
<path d="M301.6,595.2 H441" stroke="#000" stroke-width="2.4"/>
<path d="M148.8,839.6 L458.6,678.7" stroke="#000" stroke-width="2.3"/>
<path d="M462.6,530.8 L494.8,599" stroke="#000" stroke-width="1"/>
<path d="M422.5,700.4 L440,708.5" stroke="#ff0000" stroke-width="1"/>
<text x="154.5" y="61" font-family="Liberation Serif" font-weight="bold" font-size="12.5" fill="#000" textLength="441.5" lengthAdjust="spacingAndGlyphs" xml:space="preserve">The Euro is bid up this AM vs the $, perhaps in reaction to renewed</text>
<text x="154.5" y="75" font-family="Liberation Serif" font-weight="bold" font-size="12.5" fill="#000" textLength="438.5" lengthAdjust="spacingAndGlyphs" xml:space="preserve">calls by China's Central Bank for the creation of a &quot;super-sovereign</text>
<text x="154.5" y="89" font-family="Liberation Serif" font-weight="bold" font-size="12.5" fill="#000" textLength="438.5" lengthAdjust="spacingAndGlyphs" xml:space="preserve">reserve currency.&quot; This international &quot;movement&quot; by key leaders or</text>
<text x="154.5" y="103" font-family="Liberation Serif" font-weight="bold" font-size="12.5" fill="#000" textLength="418.0" lengthAdjust="spacingAndGlyphs" xml:space="preserve">institutions in China, Russia, and the Mid-East to supplant the</text>
<text x="154.5" y="117" font-family="Liberation Serif" font-weight="bold" font-size="12.5" fill="#000" textLength="431.0" lengthAdjust="spacingAndGlyphs" xml:space="preserve">U.S. Dollar does not appear to be going away, and in fact, might be</text>
<text x="154.5" y="131" font-family="Liberation Serif" font-weight="bold" font-size="12.5" fill="#000" textLength="414.5" lengthAdjust="spacingAndGlyphs" xml:space="preserve">picking up momentum. In any case, if the Euro can hurdle near</text>
<text x="154.5" y="145" font-family="Liberation Serif" font-weight="bold" font-size="12.5" fill="#000" textLength="404.5" lengthAdjust="spacingAndGlyphs" xml:space="preserve">term resistance at 1.4140/80, let's expect Silver (and Gold) to</text>
<text x="154.5" y="159" font-family="Liberation Serif" font-weight="bold" font-size="12.5" fill="#000" textLength="385.5" lengthAdjust="spacingAndGlyphs" xml:space="preserve">react positively.  MJP  6/26/09  8:15 AM ET (1.4100; 14.30)</text>
<text x="441" y="201" font-family="Liberation Serif" font-weight="bold" font-size="10.6" fill="#000" stroke="#000" stroke-width="0.3" textLength="53.0" lengthAdjust="spacingAndGlyphs" xml:space="preserve">6/03 high</text>
<text x="441" y="212.7" font-family="Liberation Serif" font-weight="bold" font-size="10.6" fill="#000" stroke="#000" stroke-width="0.3" textLength="48.0" lengthAdjust="spacingAndGlyphs" xml:space="preserve">@1.4340</text>
<text x="509.6" y="254.8" font-family="Liberation Serif" font-weight="bold" font-size="10.6" fill="#000" stroke="#000" stroke-width="0.3" textLength="68.8" lengthAdjust="spacingAndGlyphs" xml:space="preserve">We are HERE</text>
<text x="507" y="272.8" font-family="Liberation Serif" font-weight="bold" font-size="10.6" fill="#ff0000" stroke="#ff0000" stroke-width="0.3" textLength="42.0" lengthAdjust="spacingAndGlyphs" xml:space="preserve">20 DMA</text>
<text x="503" y="313" font-family="Liberation Serif" font-weight="bold" font-size="10.6" fill="#0000ff" stroke="#0000ff" stroke-width="0.3" textLength="42.7" lengthAdjust="spacingAndGlyphs" xml:space="preserve">50 DMA</text>
<text x="505" y="364" font-family="Liberation Serif" font-weight="bold" font-size="10.6" fill="#008000" stroke="#008000" stroke-width="0.3" textLength="50.0" lengthAdjust="spacingAndGlyphs" xml:space="preserve">200 DMA</text>
<text x="336.7" y="297" font-family="Liberation Serif" font-weight="bold" font-size="10.6" fill="#000" stroke="#000" stroke-width="0.3" textLength="57.3" lengthAdjust="spacingAndGlyphs" xml:space="preserve">1.3735/50</text>
<rect x="434.5" y="404.5" width="163" height="44.5" rx="4" fill="#fff" stroke="#000" stroke-width="1"/>
<text x="438.3" y="422.7" font-family="Liberation Serif" font-weight="bold" font-size="15.5" fill="#008000" stroke="#008000" stroke-width="0.4" textLength="149.7" lengthAdjust="spacingAndGlyphs" xml:space="preserve">Daily Spot Euro/$</text>
<text x="438.3" y="440.8" font-family="Liberation Serif" font-weight="bold" font-size="15.5" fill="#008000" stroke="#008000" stroke-width="0.4" textLength="129.7" lengthAdjust="spacingAndGlyphs" xml:space="preserve">March '08-Pres.</text>
<text x="451" y="511.8" font-family="Liberation Serif" font-weight="bold" font-size="10.6" fill="#ff0000" stroke="#ff0000" stroke-width="0.3" textLength="53.0" lengthAdjust="spacingAndGlyphs" xml:space="preserve">6/03 high</text>
<text x="451" y="523.4" font-family="Liberation Serif" font-weight="bold" font-size="10.6" fill="#ff0000" stroke="#ff0000" stroke-width="0.3" textLength="41.0" lengthAdjust="spacingAndGlyphs" xml:space="preserve">@16.28</text>
<text x="503" y="591" font-family="Liberation Serif" font-weight="bold" font-size="10.6" fill="#ff0000" stroke="#ff0000" stroke-width="0.3" textLength="42.7" lengthAdjust="spacingAndGlyphs" xml:space="preserve">20 DMA</text>
<text x="503.7" y="611.8" font-family="Liberation Serif" font-weight="bold" font-size="10.6" fill="#000" stroke="#000" stroke-width="0.3" textLength="69.0" lengthAdjust="spacingAndGlyphs" xml:space="preserve">We are HERE</text>
<text x="505" y="630.6" font-family="Liberation Serif" font-weight="bold" font-size="10.6" fill="#0000ff" stroke="#0000ff" stroke-width="0.3" textLength="42.5" lengthAdjust="spacingAndGlyphs" xml:space="preserve">50 DMA</text>
<text x="505" y="697.4" font-family="Liberation Serif" font-weight="bold" font-size="10.6" fill="#008000" stroke="#008000" stroke-width="0.3" textLength="50.0" lengthAdjust="spacingAndGlyphs" xml:space="preserve">200 DMA</text>
<text x="443.5" y="714" font-family="Liberation Serif" font-weight="bold" font-size="10.6" fill="#ff0000" stroke="#ff0000" stroke-width="0.3" textLength="29.2" lengthAdjust="spacingAndGlyphs" xml:space="preserve">12.03</text>
<text x="292.5" y="577.3" font-family="Liberation Serif" font-weight="bold" font-size="10.6" fill="#ff0000" stroke="#ff0000" stroke-width="0.3" textLength="54.0" lengthAdjust="spacingAndGlyphs" xml:space="preserve">2/23 high</text>
<text x="292.5" y="589.5" font-family="Liberation Serif" font-weight="bold" font-size="10.6" fill="#ff0000" stroke="#ff0000" stroke-width="0.3" textLength="41.5" lengthAdjust="spacingAndGlyphs" xml:space="preserve">@14.68</text>
<text x="390.7" y="724" font-family="Liberation Serif" font-weight="bold" font-size="10.6" fill="#ff0000" stroke="#ff0000" stroke-width="0.3" textLength="51.3" lengthAdjust="spacingAndGlyphs" xml:space="preserve">4/17 low</text>
<text x="390.7" y="736.6" font-family="Liberation Serif" font-weight="bold" font-size="10.6" fill="#ff0000" stroke="#ff0000" stroke-width="0.3" textLength="41.3" lengthAdjust="spacingAndGlyphs" xml:space="preserve">@11.79</text>
<text x="133.3" y="850.4" font-family="Liberation Serif" font-weight="bold" font-size="10.6" fill="#ff0000" stroke="#ff0000" stroke-width="0.3" textLength="57.3" lengthAdjust="spacingAndGlyphs" xml:space="preserve">10/28 low</text>
<text x="133.3" y="862.8" font-family="Liberation Serif" font-weight="bold" font-size="10.6" fill="#ff0000" stroke="#ff0000" stroke-width="0.3" textLength="41.2" lengthAdjust="spacingAndGlyphs" xml:space="preserve">@$8.39</text>
<rect x="391.5" y="764.5" width="165" height="44.5" rx="4" fill="#fff" stroke="#000" stroke-width="1"/>
<text x="395" y="782" font-family="Liberation Serif" font-weight="bold" font-size="15.5" fill="#000080" stroke="#000080" stroke-width="0.4" textLength="142.0" lengthAdjust="spacingAndGlyphs" xml:space="preserve">Daily Spot Silver:</text>
<text x="395" y="800.8" font-family="Liberation Serif" font-weight="bold" font-size="15.5" fill="#000080" stroke="#000080" stroke-width="0.4" textLength="153.0" lengthAdjust="spacingAndGlyphs" xml:space="preserve">March '08-Present</text>
<rect x="6.5" y="240.5" width="59" height="13" fill="#000000" stroke="#000" stroke-width="1" shape-rendering="crispEdges"/>
<text x="63.5" y="251.8" font-family="Liberation Sans" font-size="12" fill="#fff" text-anchor="end" letter-spacing="1.6">14141</text>
<rect x="623.5" y="246.5" width="58" height="12" fill="#006c00" stroke="#000" stroke-width="1" shape-rendering="crispEdges"/>
<text x="681.5" y="256.8" font-family="Liberation Sans" font-size="12" fill="#fff" text-anchor="end" letter-spacing="1.6">14096</text>
<rect x="623.5" y="258.5" width="58" height="12" fill="#ff0000" stroke="#000" stroke-width="1" shape-rendering="crispEdges"/>
<text x="681.5" y="268.8" font-family="Liberation Sans" font-size="12" fill="#fff" text-anchor="end" letter-spacing="1.6">14012</text>
<rect x="623.5" y="301.5" width="58" height="12" fill="#0000ff" stroke="#000" stroke-width="1" shape-rendering="crispEdges"/>
<text x="681.5" y="311.8" font-family="Liberation Sans" font-size="12" fill="#fff" text-anchor="end" letter-spacing="1.6">13706</text>
<rect x="623.5" y="352.5" width="58" height="12" fill="#006c00" stroke="#000" stroke-width="1" shape-rendering="crispEdges"/>
<text x="681.5" y="362.8" font-family="Liberation Sans" font-size="12" fill="#fff" text-anchor="end" letter-spacing="1.6">13337</text>
<rect x="623.5" y="584.5" width="58" height="12" fill="#ff0000" stroke="#000" stroke-width="1" shape-rendering="crispEdges"/>
<text x="681.5" y="594.8" font-family="Liberation Sans" font-size="12" fill="#fff" text-anchor="end" letter-spacing="1.6">1475</text>
<rect x="623.5" y="608.5" width="58" height="12" fill="#0000ff" stroke="#000" stroke-width="1" shape-rendering="crispEdges"/>
<text x="681.5" y="618.8" font-family="Liberation Sans" font-size="12" fill="#fff" text-anchor="end" letter-spacing="1.6">1412</text>
<rect x="623.5" y="602.5" width="58" height="12" fill="#220000" stroke="#000" stroke-width="1" shape-rendering="crispEdges"/>
<text x="681.5" y="612.8" font-family="Liberation Sans" font-size="12" fill="#fff" text-anchor="end" letter-spacing="1.6">1427</text>
<rect x="623.5" y="681.5" width="58" height="12" fill="#006c00" stroke="#000" stroke-width="1" shape-rendering="crispEdges"/>
<text x="681.5" y="691.8" font-family="Liberation Sans" font-size="12" fill="#fff" text-anchor="end" letter-spacing="1.6">1225</text>
<path d="M666,908 L674,901 L674,905 L682,905 L682,911 L674,911 L674,915 Z" fill="#ff0000"/>
<text x="1" y="937.5" font-family="Liberation Sans" font-size="12.5" fill="#000" textLength="395" lengthAdjust="spacingAndGlyphs">Source: CQG, Inc. © 2009 All rights reserved worldwide. www.cqg.com</text>
<text x="547" y="937.5" font-family="Liberation Sans" font-size="12.5" fill="#000" textLength="139" lengthAdjust="spacingAndGlyphs">Fri Jun 26 2009 08:16:22</text>
</svg>
</body></html>
